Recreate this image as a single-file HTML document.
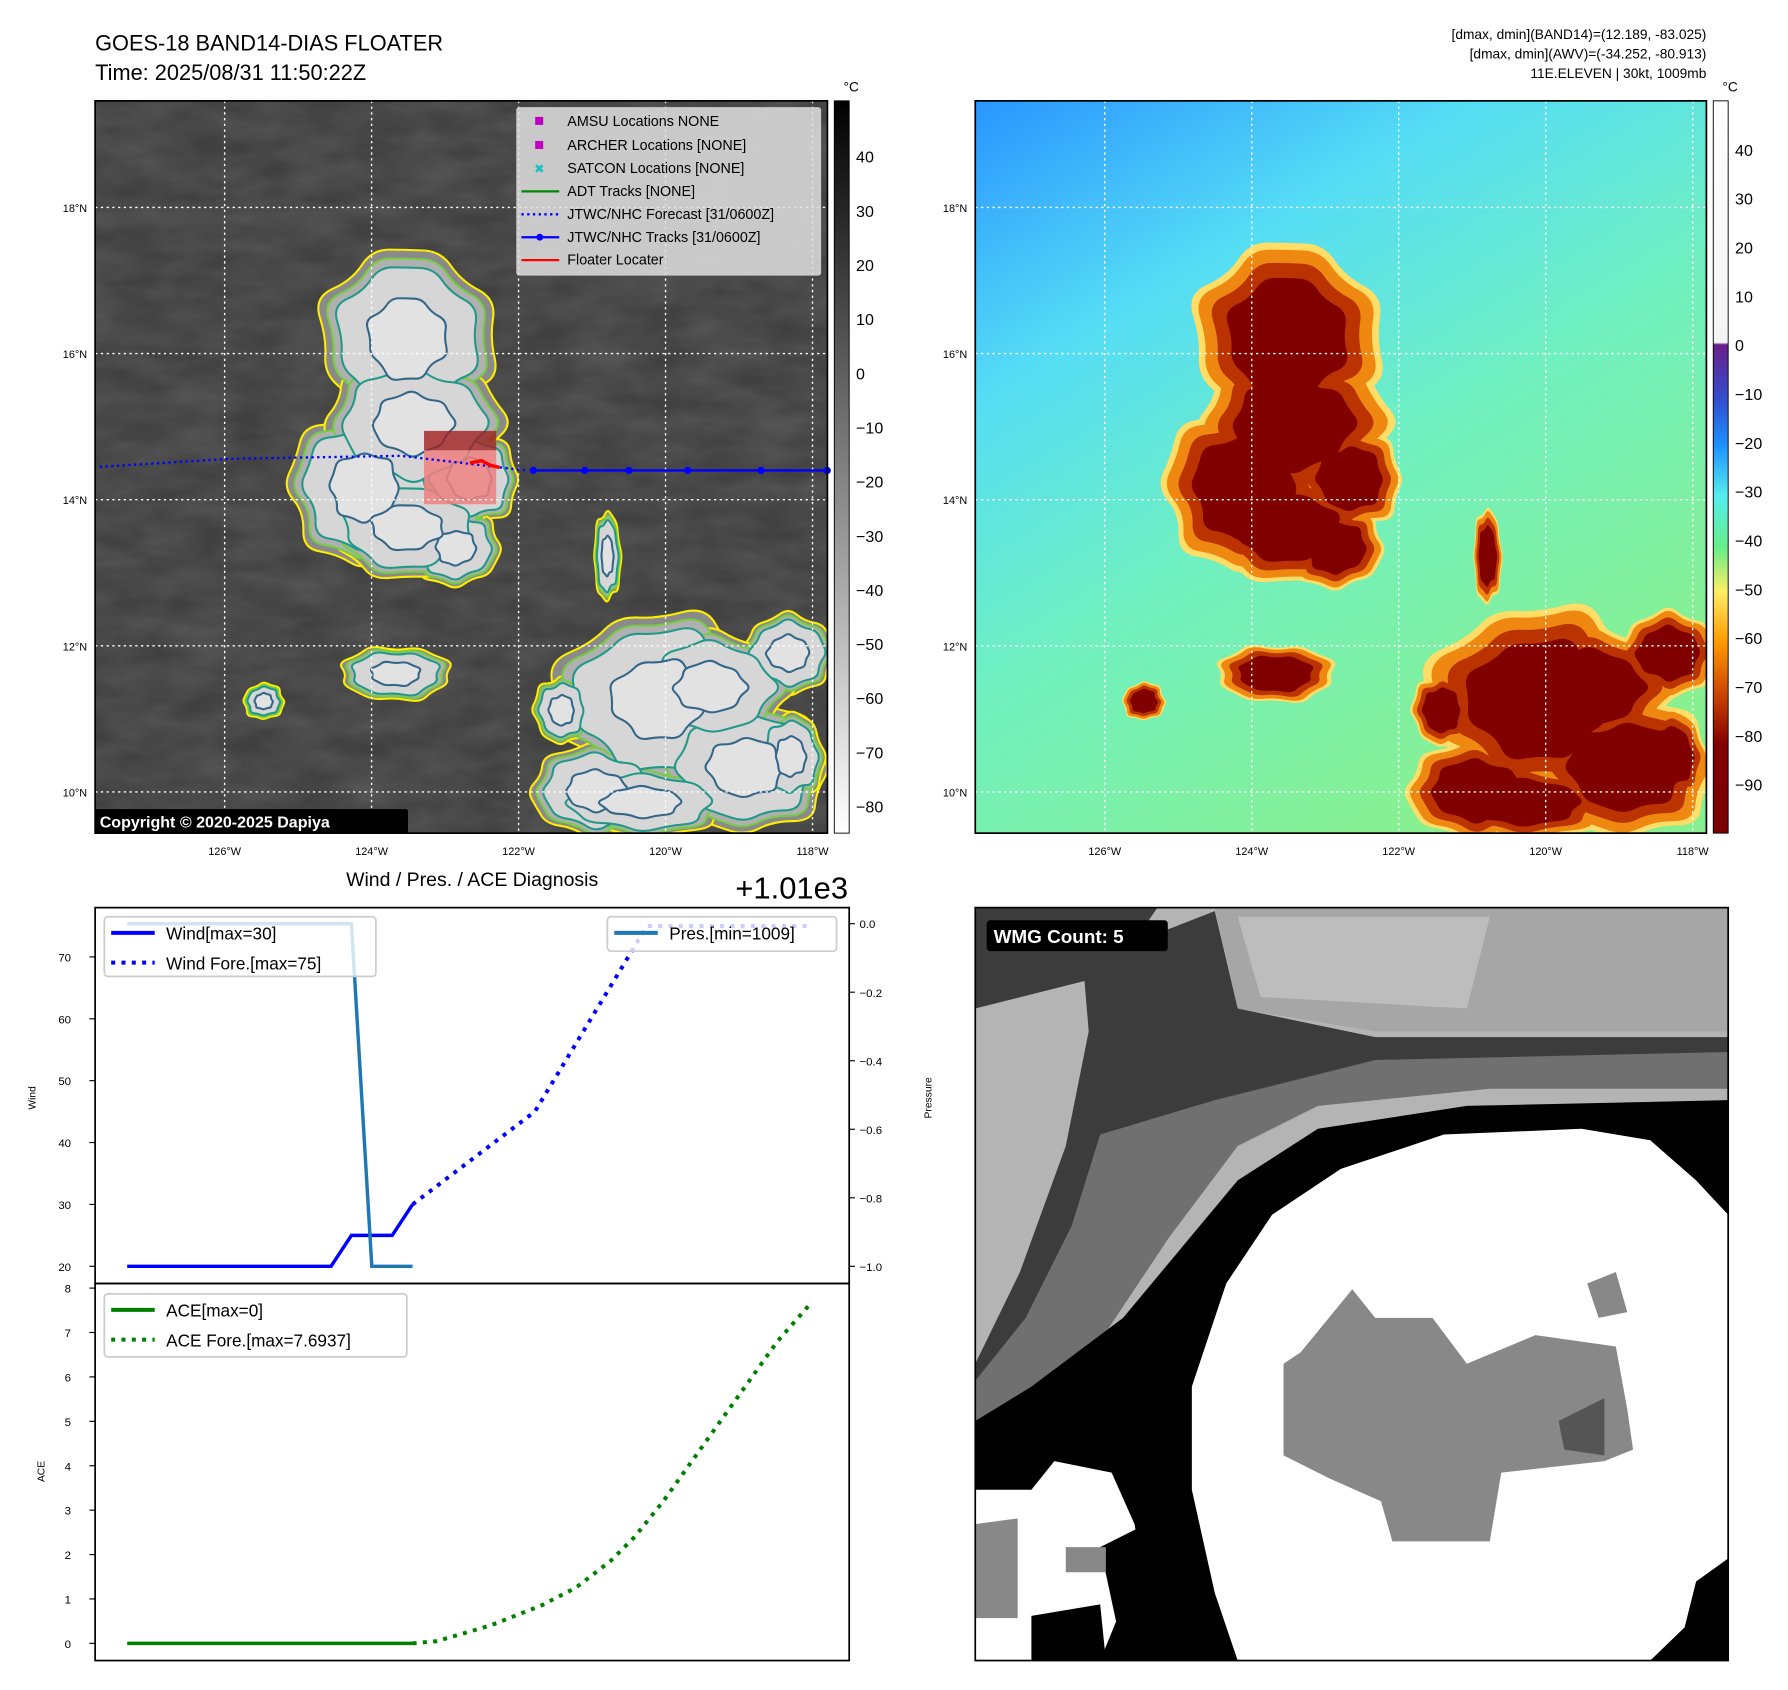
<!DOCTYPE html>
<html><head><meta charset="utf-8"><style>
html,body{margin:0;padding:0;background:#fff}
svg{display:block;font-family:"Liberation Sans","DejaVu Sans",sans-serif}
</style></head><body>
<svg id="s" width="1788" height="1690" viewBox="0 0 1560.2 1474.7" xmlns="http://www.w3.org/2000/svg">
<defs>
<filter id="tex" x="0" y="0" width="1" height="1"><feTurbulence type="fractalNoise" baseFrequency="0.02 0.05" numOctaves="3" seed="4"/><feColorMatrix type="matrix" values="0 0 0 0 0.5 0 0 0 0 0.5 0 0 0 0 0.5 0 0 0 0.5 -0.1"/></filter>
<linearGradient id="cb1" x1="0" y1="0" x2="0" y2="1"><stop offset="0" stop-color="#000"/><stop offset="1" stop-color="#fff"/></linearGradient>
<linearGradient id="cb2" x1="0" y1="0" x2="0" y2="1">
<stop offset="0" stop-color="#fff"/><stop offset="0.33" stop-color="#f4f4f4"/><stop offset="0.333" stop-color="#6a1f8a"/><stop offset="0.41" stop-color="#3050d0"/><stop offset="0.47" stop-color="#1e90ff"/><stop offset="0.54" stop-color="#55eeee"/><stop offset="0.61" stop-color="#66ee88"/><stop offset="0.67" stop-color="#ffee66"/><stop offset="0.74" stop-color="#ff9900"/><stop offset="0.81" stop-color="#cc4400"/><stop offset="0.88" stop-color="#800000"/><stop offset="1" stop-color="#7a0000"/></linearGradient>
<linearGradient id="bg2" x1="0" y1="0" x2="0.6" y2="1"><stop offset="0" stop-color="#2a95ff"/><stop offset="0.3" stop-color="#55ddf5"/><stop offset="0.6" stop-color="#70f0c0"/><stop offset="1" stop-color="#88f090"/></linearGradient>
<clipPath id="c1"><rect x="83" y="88" width="639" height="639"/></clipPath>
<clipPath id="c2"><rect x="851" y="88" width="638" height="639"/></clipPath>
<clipPath id="c3"><rect x="851" y="792" width="657" height="657"/></clipPath>
</defs>

<text x="83" y="44" font-size="19">GOES-18 BAND14-DIAS FLOATER</text>
<text x="83" y="70" font-size="19">Time: 2025/08/31 11:50:22Z</text>
<g font-size="12" text-anchor="end">
<text x="1489" y="34">[dmax, dmin](BAND14)=(12.189, -83.025)</text>
<text x="1489" y="51">[dmax, dmin](AWV)=(-34.252, -80.913)</text>
<text x="1489" y="68">11E.ELEVEN | 30kt, 1009mb</text>
</g>

<g id="map1" clip-path="url(#c1)">
<rect x="83" y="88" width="639" height="639" fill="#404040"/>
<rect x="83" y="88" width="639" height="639" filter="url(#tex)" opacity="0.5"/>
<g id="blobs1"></g>
</g>
<g id="map2" clip-path="url(#c2)">
<rect x="851" y="88" width="638" height="639" fill="url(#bg2)"/>
<g id="blobs2"></g>
</g>
<g id="grid1"></g><g id="grid2"></g>
<g id="track"></g>
<rect x="83" y="88" width="639" height="639" fill="none" stroke="#000" stroke-width="1.5"/>
<rect x="851" y="88" width="638" height="639" fill="none" stroke="#000" stroke-width="1.5"/>

<g>
<rect x="451" y="94" width="265" height="146" fill="#e0e0e0" fill-opacity="0.85" stroke="#ccc" rx="2"/>
<g font-size="12.5">
<rect x="467" y="102" width="7" height="7" fill="#c000c0"/><text x="495" y="110">AMSU Locations NONE</text>
<rect x="467" y="123" width="7" height="7" fill="#c000c0"/><text x="495" y="131">ARCHER Locations [NONE]</text>
<text x="466" y="151" fill="#20c0c0" font-size="11" font-weight="bold">✖</text><text x="495" y="151">SATCON Locations [NONE]</text>
<line x1="455" y1="167" x2="488" y2="167" stroke="#080" stroke-width="2"/><text x="495" y="171">ADT Tracks [NONE]</text>
<line x1="455" y1="187" x2="488" y2="187" stroke="#00f" stroke-width="2" stroke-dasharray="2 3"/><text x="495" y="191">JTWC/NHC Forecast [31/0600Z]</text>
<line x1="455" y1="207" x2="488" y2="207" stroke="#00f" stroke-width="2"/><circle cx="471" cy="207" r="3" fill="#00f"/><text x="495" y="211">JTWC/NHC Tracks [31/0600Z]</text>
<line x1="455" y1="227" x2="488" y2="227" stroke="#f00" stroke-width="2"/><text x="495" y="231">Floater Locater</text>
</g></g>
<rect x="83" y="706" width="273" height="21" fill="#000" rx="2"/>
<text x="87" y="722" font-size="14" font-weight="bold" fill="#fff">Copyright © 2020-2025 Dapiya</text>

<g id="cbar1"><rect x="728" y="88" width="13" height="639" fill="url(#cb1)" stroke="#000" stroke-width="0.8"/><text x="736" y="80" font-size="12">°C</text></g>
<g id="cbar2"><rect x="1495" y="88" width="13" height="639" fill="url(#cb2)" stroke="#000" stroke-width="0.8"/><text x="1503" y="80" font-size="12">°C</text></g>

<g id="wmg" clip-path="url(#c3)">
<rect x="851" y="792" width="657" height="657" fill="#b4b4b4"/>
<polygon fill="#a6a6a6" points="1060,792 1508,792 1508,900 1200,900 1080,880"/>
<polygon fill="#bdbdbd" points="1080,800 1300,800 1280,880 1100,870"/>
<polygon fill="#3c3c3c" points="851,792 1010,792 970,850 851,880"/>
<polygon fill="#3c3c3c" points="945,840 1060,795 1080,880 1200,905 1508,905 1508,930 1300,935 1150,945 1080,975 1020,1050 960,1130 900,1180 851,1220 851,1190 890,1110 930,1000 950,900"/>
<polygon fill="#707070" points="960,990 1060,960 1200,925 1508,918 1508,950 1300,950 1150,965 1080,1000 1020,1080 960,1170 880,1230 851,1240 851,1205 895,1150 935,1070"/>
<polygon fill="#000" points="851,1240 900,1210 980,1150 1030,1090 1080,1030 1150,985 1280,965 1508,960 1508,1449 851,1449"/>
<polygon fill="#fff" points="1040,1210 1070,1120 1110,1060 1170,1020 1260,990 1380,985 1440,995 1480,1030 1508,1060 1508,1360 1480,1380 1470,1420 1440,1449 1080,1449 1060,1390 1040,1300"/>
<polygon fill="#fff" points="851,1300 900,1300 920,1275 970,1285 990,1330 1000,1390 980,1400 960,1449 851,1449"/>
<polygon fill="#000" points="900,1410 960,1400 965,1449 900,1449"/>
<polygon fill="#000" points="960,1350 1000,1330 1010,1420 975,1420"/>
<polygon fill="#888" points="851,1330 888,1325 888,1412 851,1412"/>
<polygon fill="#888" points="930,1350 965,1350 965,1372 930,1372"/>
<polygon fill="#888" points="1120,1190 1135,1180 1180,1125 1200,1150 1250,1150 1280,1190 1340,1165 1410,1175 1420,1230 1425,1265 1400,1275 1310,1285 1300,1345 1215,1345 1205,1310 1160,1290 1120,1270"/>
<polygon fill="#555" points="1360,1240 1400,1220 1400,1270 1365,1265"/>
<polygon fill="#888" points="1385,1120 1410,1110 1420,1145 1395,1150"/>
</g>
<rect x="851" y="792" width="657" height="657" fill="none" stroke="#000" stroke-width="1.5"/>
<rect x="861" y="803" width="158" height="27" rx="3" fill="#000"/>
<text x="867" y="823" font-size="16.5" font-weight="bold" fill="#fff">WMG Count: 5</text>

<text x="412" y="773" font-size="17" text-anchor="middle">Wind / Pres. / ACE Diagnosis</text>
<text x="740" y="784" font-size="27" text-anchor="end">+1.01e3</text>
<g id="chart"></g>
</svg>
<script>
// ===== chart data =====
const obsIdx=[0,1,2,3,4,5,6,7,8,9,10,11,12,13,14];
const windObs=[20,20,20,20,20,20,20,20,20,20,20,25,25,25,30];
const presObs=[1010,1010,1010,1010,1010,1010,1010,1010,1010,1010,1010,1010,1009,1009,1009];
const aceObs=[0,0,0,0,0,0,0,0,0,0,0,0,0,0,0];
const windFcIdx=[14,20,25.5,33.5];
const windFc=[30,45,75,75];
const aceFcIdx=[14,15.2,17.8,20.3,22,23.7,24.9,26.3,27.7,29.1,30.5,31.9,33.6];
const aceFc=[0,0.05,0.4,0.85,1.25,1.85,2.4,3.2,4.1,5.0,5.9,6.8,7.69];
const windTicks=[20,30,40,50,60,70];
const presTicks=[0,-0.2,-0.4,-0.6,-0.8,-1.0];
const presTickLabels=["0.0","\u22120.2","\u22120.4","\u22120.6","\u22120.8","\u22121.0"];
const aceTicks=[0,1,2,3,4,5,6,7,8];
// ===== map data =====
const trackLon=[121.8,121.1,120.5,119.7,118.7,117.8];
const trackLat=[14.4,14.4,14.4,14.4,14.4,14.4];
const fcLon=[127.7,125.9,123.6,121.9];
const fcLat=[14.45,14.56,14.6,14.4];
const lonTicks=[126,124,122,120,118];
const latTicks=[18,16,14,12,10];
const cb1Ticks=[40,30,20,10,0,-10,-20,-30,-40,-50,-60,-70,-80];
const cb2Ticks=[40,30,20,10,0,-10,-20,-30,-40,-50,-60,-70,-80,-90];

const NS="http://www.w3.org/2000/svg";
function mk(t,a,p){const e=document.createElementNS(NS,t);for(const k in a)e.setAttribute(k,a[k]);(p||document.getElementById('s')).appendChild(e);return e;}
const X=i=>111+i*(360-111)/14;
const YW=w=>1105-(w-20)*5.4;
const YP=p=>806-(p-1010)*299;
const YA=a=>1434-a*38.75;
const LX=w=>196+(126-w)*64.125;
const LY=n=>181+(18-n)*63.75;
const ch=document.getElementById('chart');

const ax1=mk('rect',{x:83,y:792,width:658,height:328,fill:'none',stroke:'#000','stroke-width':1.5},ch);


const ax2=mk('rect',{x:83,y:1120,width:658,height:329,fill:'none',stroke:'#000','stroke-width':1.5},ch);


windTicks.forEach(v=>{mk('line',{x1:78,x2:83,y1:YW(v),y2:YW(v),stroke:'#000'},ch);const t=mk('text',{x:62,y:YW(v)+4,'font-size':10,'text-anchor':'end'},ch);t.textContent=v;

});
presTicks.forEach((v,i)=>{const y=YP(1010+v);mk('line',{x1:741,x2:746,y1:y,y2:y,stroke:'#000'},ch);const t=mk('text',{x:750,y:y+4,'font-size':10},ch);t.textContent=presTickLabels[i];

});
aceTicks.forEach(v=>{mk('line',{x1:78,x2:83,y1:YA(v),y2:YA(v),stroke:'#000'},ch);const t=mk('text',{x:62,y:YA(v)+4,'font-size':10,'text-anchor':'end'},ch);t.textContent=v;

});
let t=mk('text',{x:31,y:958,'font-size':9,transform:'rotate(-90 31 958)','text-anchor':'middle'},ch);t.textContent='Wind';


t=mk('text',{x:39,y:1284,'font-size':9,transform:'rotate(-90 39 1284)','text-anchor':'middle'},ch);t.textContent='ACE';


t=mk('text',{x:813,y:958,'font-size':9,transform:'rotate(-90 813 958)','text-anchor':'middle'},ch);t.textContent='Pressure';



function line(xs,ys,fx,fy,attrs,name){const pts=xs.map((x,i)=>fx(x)+','+fy(ys[i])).join(' ');const p=mk('polyline',Object.assign({points:pts,fill:'none'},attrs),ch);

return p;}
line(windFcIdx,windFc,X,YW,{stroke:'#0000ff','stroke-width':3.5,'stroke-dasharray':'3.5 5.5'},'wind-forecast-line');
line(obsIdx,windObs,X,YW,{stroke:'#0000ff','stroke-width':3},'wind-line');
line(obsIdx,presObs,X,YP,{stroke:'#1f77b4','stroke-width':3},'pressure-line');
line(aceFcIdx,aceFc,X,YA,{stroke:'#008000','stroke-width':3.5,'stroke-dasharray':'3.5 5.5'},'ace-forecast-line');
line(obsIdx,aceObs,X,YA,{stroke:'#008000','stroke-width':3},'ace-line');

function legend(x,y,w,h,items,name){const g=mk('g',{},ch);


mk('rect',{x:x,y:y,width:w,height:h,rx:3,fill:'#fff','fill-opacity':0.8,stroke:'#ccc','stroke-width':1.5},g);
items.forEach((it,i)=>{const yy=y+14+i*26;mk('line',{x1:x+6,x2:x+44,y1:yy,y2:yy,stroke:it[1],'stroke-width':3.5,'stroke-dasharray':it[2]},g);const tt=mk('text',{x:x+54,y:yy+6,'font-size':15},g);tt.textContent=it[0];});}
legend(91,800,237,52,[['Wind[max=30]','#0000ff','none'],['Wind Fore.[max=75]','#0000ff','3.5 5.5']],'wind-legend');
legend(530,800,200,30,[['Pres.[min=1009]','#1f77b4','none']],'pressure-legend');
legend(91,1129,264,55,[['ACE[max=0]','#008000','none'],['ACE Fore.[max=7.6937]','#008000','3.5 5.5']],'ace-legend');

const wob=[1,0.86,1.08,0.93,1.12,0.84,1.05,0.95,1.1,0.88,1.0,0.9,1.13,0.87,1.02,0.94];
const blobs=[[355,295,78,82],[318,425,68,68],[410,418,44,42],[398,478,40,34],[360,370,80,60],[355,460,70,45],[575,610,95,78],[688,570,42,35],[650,670,75,58],[520,690,60,40],[620,600,70,50],[560,700,80,30],[345,588,50,24],[230,612,18,16],[490,620,25,30],[690,660,30,40],[530,485,12,40]];
function bpath(cx,cy,rx,ry,s){let d='';const n=wob.length;const P=[];for(let i=0;i<n;i++){const a=i/n*2*Math.PI;const r=wob[(i+Math.round(cx))%n]*s;P.push([cx+Math.cos(a)*rx*r,cy+Math.sin(a)*ry*r]);}
for(let i=0;i<n;i++){const p=P[i],q=P[(i+1)%n];const m=[(p[0]+q[0])/2,(p[1]+q[1])/2];d+=(i==0?'M'+((P[n-1][0]+p[0])/2)+','+((P[n-1][1]+p[1])/2):'')+'Q'+p[0]+','+p[1]+' '+m[0]+','+m[1];}return d+'Z';}
const b1=document.getElementById('blobs1'),b2=document.getElementById('blobs2');
const L1=[[1.0,'#8a8a8a','#ffee00'],[0.9,'#b0b0b0','#77cc44'],[0.8,'#d6d6d6','#229988'],[0.45,'#e2e2e2','#336688']];
const L2=[[1.08,'#ffdd66','none'],[1.0,'#ee8811','none'],[0.85,'#bb3300','none'],[0.68,'#800000','none']];
L1.forEach(l=>blobs.forEach(b=>mk('path',{d:bpath(b[0],b[1],b[2],b[3],l[0]),fill:l[1],stroke:l[2],'stroke-width':1.8},b1)));
L2.forEach(l=>blobs.forEach(b=>mk('path',{d:bpath(b[0]+768,b[1],b[2],b[3],l[0]),fill:l[1]},b2)));
mk('rect',{x:370,y:376,width:63,height:17,fill:'#a02020',opacity:0.8},b1);
mk('rect',{x:370,y:393,width:63,height:47,fill:'#f08080',opacity:0.85},b1);

[[document.getElementById('grid1'),0],[document.getElementById('grid2'),768]].forEach(([g,off])=>{
lonTicks.forEach(w=>{const x=LX(w)+off;mk('line',{x1:x,x2:x,y1:88,y2:727,stroke:'#fff','stroke-width':1.2,'stroke-dasharray':'2 3'},g);const tt=mk('text',{x:x,y:746,'font-size':9.5,'text-anchor':'middle'},g);tt.textContent=w+'°W';

});
latTicks.forEach(n=>{const y=LY(n);mk('line',{x1:83+off,x2:722+off,y1:y,y2:y,stroke:'#fff','stroke-width':1.2,'stroke-dasharray':'2 3'},g);const tt=mk('text',{x:76+off,y:y+4,'font-size':9.5,'text-anchor':'end'},g);tt.textContent=n+'°N';

});});

const tg=document.getElementById('track');
let p=mk('polyline',{points:fcLon.map((w,i)=>LX(w)+','+LY(fcLat[i])).join(' '),fill:'none',stroke:'#0000ff','stroke-width':2,'stroke-dasharray':'2 3'},tg);


p=mk('polyline',{points:trackLon.map((w,i)=>LX(w)+','+LY(trackLat[i])).join(' '),fill:'none',stroke:'#0000ff','stroke-width':2},tg);


trackLon.forEach((w,i)=>mk('circle',{cx:LX(w),cy:LY(trackLat[i]),r:3.2,fill:'#0000ff'},tg));
mk('polyline',{points:'410,404 420,402 428,406 436,408',fill:'none',stroke:'#f00','stroke-width':3},tg);

cb1Ticks.forEach(v=>{const y=137+(40-v)*4.725;const tt=mk('text',{x:747,y:y+5,'font-size':14},document.getElementById('cbar1'));tt.textContent=String(v).replace('-','\u2212');});
cb2Ticks.forEach(v=>{const y=131+(40-v)*4.2615;const tt=mk('text',{x:1514,y:y+5,'font-size':14},document.getElementById('cbar2'));tt.textContent=String(v).replace('-','\u2212');});
</script>
</body></html>
